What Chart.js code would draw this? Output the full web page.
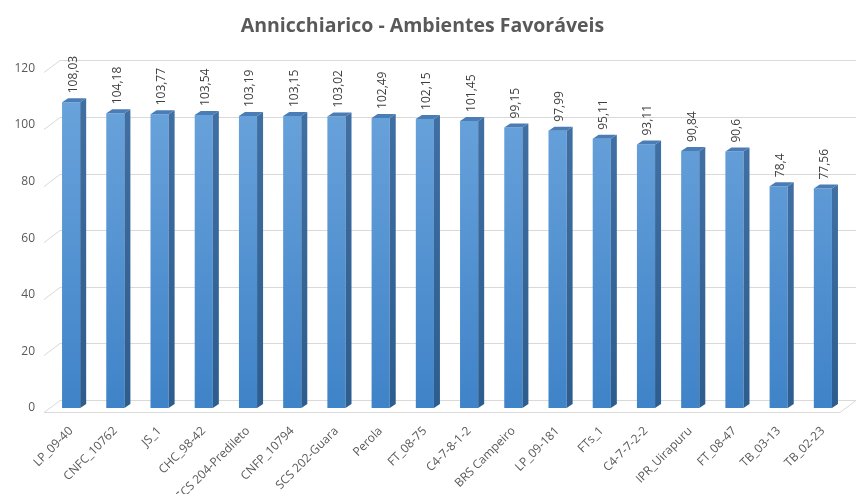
<!DOCTYPE html>
<html>
<head>
<meta charset="utf-8">
<script src="https://cdn.jsdelivr.net/npm/chart.js@4.4.1/dist/chart.umd.min.js"></script>
<style>
  html, body { margin: 0; padding: 0; background: #fff; overflow: hidden; }
  #wrap { width: 859px; height: 494px; }
</style>
</head>
<body>
<div id="wrap"><canvas id="annChart" width="859" height="494"></canvas></div>
<script>
const categories = ['LP_09-40', 'CNFC_10762', 'JS_1', 'CHC_98-42', 'SCS 204-Predileto', 'CNFP_10794',
  'SCS 202-Guara', 'Perola', 'FT_08-75', 'C4-7-8-1-2', 'BRS Campeiro', 'LP_09-181', 'FTs_1',
  'C4-7-7-2-2', 'IPR_Uirapuru', 'FT_08-47', 'TB_03-13', 'TB_02-23'];
const values = [108.03, 104.18, 103.77, 103.54, 103.19, 103.15, 103.02, 102.49, 102.15, 101.45,
  99.15, 97.99, 95.11, 93.11, 90.84, 90.6, 78.4, 77.56];
const yTicks = [0, 20, 40, 60, 80, 100, 120];

// depth of the fake 3D look
const BAR_DX = 6, BAR_DY = 4;
const WALL_BACK_X = 11, WALL_BACK_Y = 8, WALL_FRONT_X = 5, WALL_FRONT_Y = 4;

function fmt(v) {
  return String(v).replace('.', ',');
}

// back wall gridlines + floor, drawn behind bars
const wall3d = {
  id: 'wall3d',
  beforeDatasetsDraw(chart) {
    const ctx = chart.ctx;
    const area = chart.chartArea;
    const y = chart.scales.y;
    ctx.save();
    ctx.strokeStyle = '#d9d9d9';
    ctx.lineWidth = 1;
    yTicks.forEach(v => {
      const py = Math.round(y.getPixelForValue(v)) + 0.5;
      ctx.beginPath();
      ctx.moveTo(area.left - WALL_FRONT_X, py + WALL_FRONT_Y);
      ctx.lineTo(area.left + WALL_BACK_X, py - WALL_BACK_Y);
      ctx.lineTo(area.right + WALL_BACK_X, py - WALL_BACK_Y);
      ctx.stroke();
    });
    // floor front edge
    const p0 = Math.round(y.getPixelForValue(0)) + 0.5;
    ctx.beginPath();
    ctx.moveTo(area.left - WALL_FRONT_X, p0 + WALL_FRONT_Y);
    ctx.lineTo(area.right - WALL_FRONT_X, p0 + WALL_FRONT_Y);
    ctx.lineTo(area.right + WALL_BACK_X, p0 - WALL_BACK_Y);
    ctx.stroke();
    ctx.restore();
  },
  afterDatasetsDraw(chart) {
    const ctx = chart.ctx;
    const meta = chart.getDatasetMeta(0);
    ctx.save();
    meta.data.forEach((bar, i) => {
      const p = bar.getProps(['x', 'y', 'base', 'width'], true);
      const l = p.x - p.width / 2, r = p.x + p.width / 2;
      // side face
      const side = ctx.createLinearGradient(0, p.y, 0, p.base);
      side.addColorStop(0, '#3f6fa3');
      side.addColorStop(1, '#2d5d8e');
      ctx.fillStyle = side;
      ctx.beginPath();
      ctx.moveTo(r, p.y);
      ctx.lineTo(r + BAR_DX, p.y - BAR_DY);
      ctx.lineTo(r + BAR_DX, p.base - BAR_DY);
      ctx.lineTo(r, p.base);
      ctx.closePath();
      ctx.fill();
      // top face
      ctx.fillStyle = '#4a7db6';
      ctx.beginPath();
      ctx.moveTo(l, p.y);
      ctx.lineTo(l + BAR_DX, p.y - BAR_DY);
      ctx.lineTo(r + BAR_DX, p.y - BAR_DY);
      ctx.lineTo(r, p.y);
      ctx.closePath();
      ctx.fill();
      // value label, rotated
      ctx.save();
      ctx.translate(p.x + 2, p.y - BAR_DY - 5);
      ctx.rotate(-Math.PI / 2);
      ctx.fillStyle = '#404040';
      ctx.font = '12px "Open Sans"';
      ctx.textAlign = 'left';
      ctx.textBaseline = 'middle';
      ctx.fillText(fmt(values[i]), 0, 0);
      ctx.restore();
    });
    ctx.restore();
  }
};

const ctx = document.getElementById('annChart').getContext('2d');
new Chart(ctx, {
  type: 'bar',
  data: {
    labels: categories,
    datasets: [{
      label: 'Annicchiarico',
      data: values,
      backgroundColor: (c) => {
        const area = c.chart.chartArea;
        if (!area) return '#5b9bd5';
        const g = c.chart.ctx.createLinearGradient(0, area.top, 0, area.bottom);
        g.addColorStop(0, '#6ea6dd');
        g.addColorStop(1, '#3f83c8');
        return g;
      },
      borderWidth: 0,
      barPercentage: 0.41,
      categoryPercentage: 1
    }]
  },
  options: {
    responsive: false,
    animation: false,
    layout: { padding: { left: 0, right: 14, top: 0, bottom: 0 } },
    plugins: {
      legend: { display: false },
      tooltip: { enabled: false },
      title: {
        display: true,
        text: 'Annicchiarico - Ambientes Favoráveis',
        color: '#595959',
        font: { family: '"Open Sans"', size: 19.5, weight: 'bold' },
        padding: { top: 15, bottom: 30 }
      }
    },
    scales: {
      x: {
        grid: { display: false },
        border: { display: false },
        ticks: {
          color: '#595959',
          font: { family: '"Open Sans"', size: 12 },
          minRotation: 45,
          maxRotation: 45,
          autoSkip: false,
          padding: 8
        },
        afterFit(scale) { scale.height = 86; }
      },
      y: {
        min: 0,
        max: 120,
        grid: { display: false },
        border: { display: false },
        ticks: {
          stepSize: 20,
          color: '#595959',
          font: { family: '"Open Sans"', size: 12 },
          padding: 6
        },
        afterFit(scale) { scale.width = 49; }
      }
    }
  },
  plugins: [wall3d]
});
</script>
</body>
</html>
